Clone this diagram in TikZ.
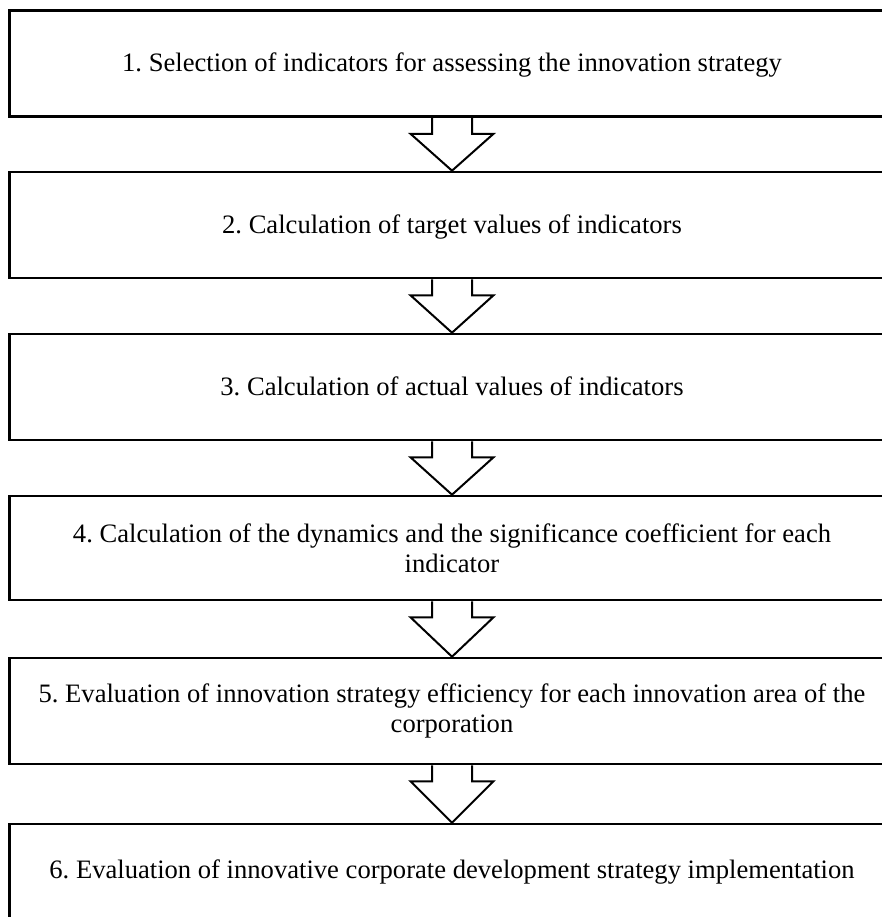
\documentclass[tikz,border=0pt]{standalone}
\usepackage{fontspec}
\setmainfont{Liberation Serif}
\usetikzlibrary{calc}
\frenchspacing
\begin{document}
\begin{tikzpicture}[x=1pt,y=-1pt,
  stepbox/.style={draw=black, line width=2.6pt, minimum width=885pt, minimum height=106pt,
    inner sep=0pt, align=center, font=\fontsize{26.6pt}{30pt}\selectfont\frenchspacing},
  oneline/.style={text height=24pt, text depth=7pt},
  arrowline/.style={draw=black, line width=2pt, line join=miter}]
\useasboundingbox (0,0) rectangle (882,917);
\clip (0,0) rectangle (882,917);
\node[stepbox, oneline] (b1) at (452,63.5) {1. Selection of indicators for assessing the innovation strategy};
\node[stepbox, oneline] (b2) at (452,225) {2. Calculation of target values of indicators};
\node[stepbox, oneline] (b3) at (452,387) {3. Calculation of actual values of indicators};
\node[stepbox, minimum height=104pt] (b4) at (452,548) {4. Calculation of the dynamics and the significance coefficient for each\\indicator};
\node[stepbox] (b5) at (452,711) {5. Evaluation of innovation strategy efficiency for each innovation area of the\\corporation};
\node[stepbox, text height=24pt, text depth=22pt] (b6) at (452,877) {6. Evaluation of innovative corporate development strategy implementation};
\foreach \a/\b in {b1/b2,b2/b3,b3/b4,b4/b5,b5/b6}{
  \draw[arrowline] ($(\a.south)+(-20,0)$) -- ++(0,16) -- ++(-21.5,0) -- (\b.north)
    -- ($(\a.south)+(41.5,16)$) -- ++(-21.5,0) -- ++(0,-16);
}
\end{tikzpicture}
\end{document}
